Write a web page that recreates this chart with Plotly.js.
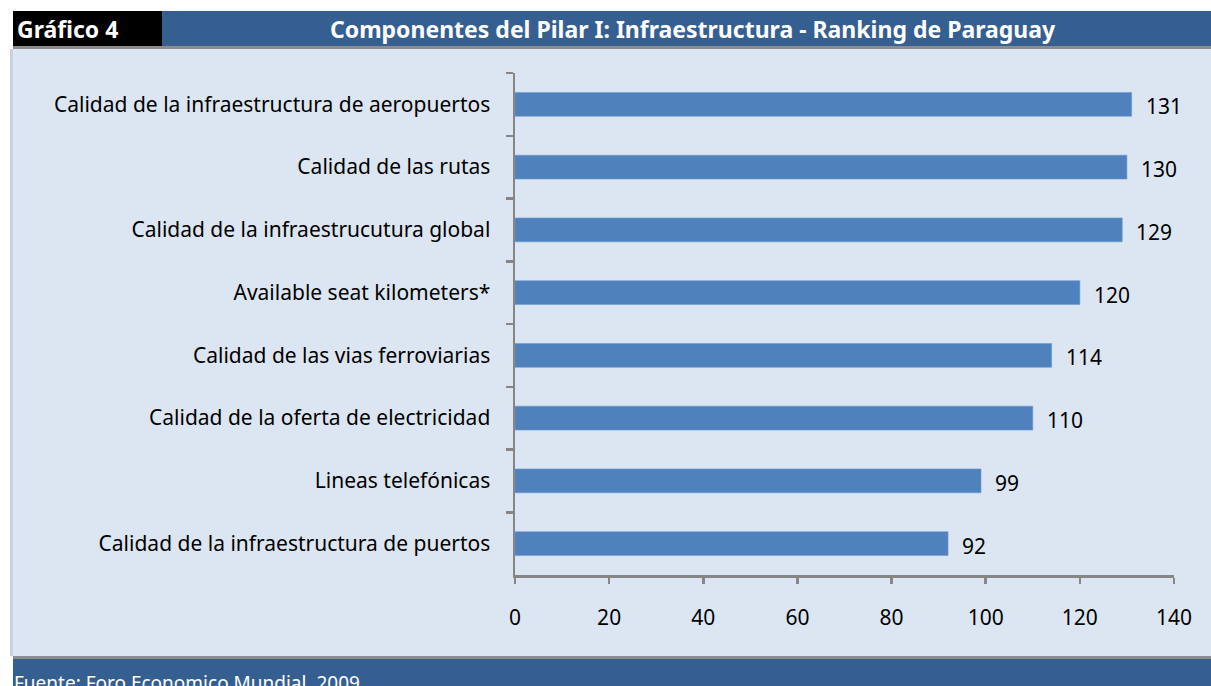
<!DOCTYPE html>
<html>
<head>
<meta charset="utf-8">
<script src="https://cdn.plot.ly/plotly-3.0.1.min.js"></script>
<style>html,body{margin:0;padding:0;background:#fff;}#chart{width:1211px;height:686px;}</style>
</head>
<body>
<div id="chart"></div>
<script>
const categories = [
  "Calidad de la infraestructura de aeropuertos",
  "Calidad de las rutas",
  "Calidad de la infraestrucutura global",
  "Available seat kilometers*",
  "Calidad de las vias ferroviarias",
  "Calidad de la oferta de electricidad",
  "Lineas telefónicas",
  "Calidad de la infraestructura de puertos"
];
const ranking = [131, 130, 129, 120, 114, 110, 99, 92];
const xTicks = [0, 20, 40, 60, 80, 100, 120, 140];
const chartLabel = "Gráfico 4";
const chartTitle = "Componentes del Pilar I: Infraestructura - Ranking de Paraguay";
const sourceText = "Fuente: Foro Economico Mundial, 2009.";

const W = 1211, H = 686;
const px = x => x / W;
const py = y => 1 - y / H;
const FONT = "Noto Sans, Open Sans, sans-serif";

const trace = {
  type: "bar",
  orientation: "h",
  x: ranking,
  y: categories,
  marker: {color: "#4f81bd", line: {color: "#6f9bd0", width: 0.6}},
  width: 0.38,
  hoverinfo: "x+y"
};

const annotations = ranking.map((v, i) => ({
  x: v, y: categories[i], xref: "x", yref: "y",
  text: String(v), showarrow: false, xanchor: "left", yanchor: "middle",
  xshift: 12, yshift: -2,
  font: {family: FONT, size: 21, color: "#000"}
}));

annotations.push(
  {x: px(15), y: py(29), xref: "paper", yref: "paper", xanchor: "left", yanchor: "middle",
   text: "<b>" + chartLabel + "</b>", showarrow: false,
   font: {family: FONT, size: 23, color: "#fff"}},
  {x: px(693), y: py(29), xref: "paper", yref: "paper", xanchor: "center", yanchor: "middle",
   text: "<b>" + chartTitle + "</b>", showarrow: false,
   font: {family: FONT, size: 23, color: "#fff"}},
  {x: px(12), y: py(683), xref: "paper", yref: "paper", xanchor: "left", yanchor: "middle",
   text: sourceText, showarrow: false,
   font: {family: FONT, size: 19, color: "#fff"}}
);

const shapes = [
  {type: "rect", xref: "paper", yref: "paper", x0: px(10), x1: px(1211), y0: py(656), y1: py(49),
   fillcolor: "#dce6f2", line: {width: 0}, layer: "below"},
  {type: "rect", xref: "paper", yref: "paper", x0: px(10), x1: px(13), y0: py(656), y1: py(49),
   fillcolor: "#c9d2de", line: {width: 0}, layer: "below"},
  {type: "rect", xref: "paper", yref: "paper", x0: px(162), x1: px(1211), y0: py(46), y1: py(11),
   fillcolor: "#365f91", line: {width: 0}, layer: "below"},
  {type: "rect", xref: "paper", yref: "paper", x0: px(13), x1: px(162), y0: py(46), y1: py(11),
   fillcolor: "#000000", line: {width: 0}, layer: "below"},
  {type: "rect", xref: "paper", yref: "paper", x0: px(13), x1: px(1211), y0: py(49), y1: py(46),
   fillcolor: "#8c8c8c", line: {width: 0}, layer: "below"},
  {type: "rect", xref: "paper", yref: "paper", x0: px(13), x1: px(1211), y0: py(659), y1: py(656),
   fillcolor: "#8c8c8c", line: {width: 0}, layer: "below"},
  {type: "rect", xref: "paper", yref: "paper", x0: px(13), x1: px(1211), y0: py(686), y1: py(659),
   fillcolor: "#365f91", line: {width: 0}, layer: "below"}
];

const layout = {
  width: W, height: H,
  margin: {l: 0, r: 0, t: 0, b: 0, pad: 0},
  paper_bgcolor: "#ffffff",
  plot_bgcolor: "rgba(0,0,0,0)",
  showlegend: false,
  font: {family: FONT, size: 21, color: "#000"},
  xaxis: {
    domain: [px(515), px(1174)],
    range: [0, 140],
    tickvals: xTicks,
    ticktext: xTicks.map(String),
    showgrid: false, zeroline: false,
    showline: true, linecolor: "#868686", linewidth: 2.5,
    ticks: "outside", ticklen: 6, tickwidth: 2.5, tickcolor: "#868686",
    ticklabelstandoff: 16,
    tickfont: {family: FONT, size: 21, color: "#000"},
    fixedrange: true
  },
  yaxis: {
    domain: [py(575), py(73)],
    type: "category",
    autorange: "reversed",
    showgrid: false, zeroline: false,
    showline: true, linecolor: "#868686", linewidth: 2.5,
    ticks: "outside", ticklen: 7, tickwidth: 2.5, tickcolor: "#868686",
    tickson: "boundaries",
    ticklabelstandoff: 18,
    tickfont: {family: FONT, size: 21, color: "#000"},
    fixedrange: true
  },
  shapes: shapes,
  annotations: annotations
};

Plotly.newPlot("chart", [trace], layout, {displayModeBar: false, staticPlot: true});
</script>
</body>
</html>
